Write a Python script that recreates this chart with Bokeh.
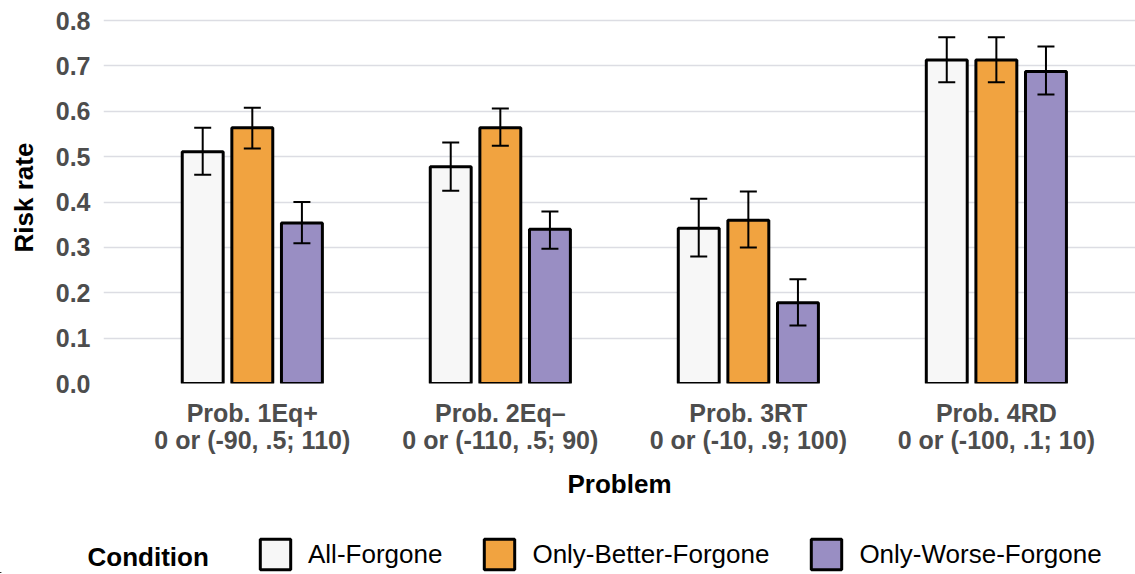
from bokeh.plotting import figure
from bokeh.models import (ColumnDataSource, Range1d, Whisker, TeeHead, Legend, LegendItem,
                          SingleIntervalTicker, FixedTicker, PrintfTickFormatter, Label)
from bokeh.transform import dodge
from bokeh.embed import file_html
from bokeh.resources import INLINE

problems = ["Prob. 1Eq+\n0 or (-90, .5; 110)",
            "Prob. 2Eq\u2013\n0 or (-110, .5; 90)",
            "Prob. 3RT\n0 or (-10, .9; 100)",
            "Prob. 4RD\n0 or (-100, .1; 10)"]
conditions = ["All-Forgone", "Only-Better-Forgone", "Only-Worse-Forgone"]
colors = ["#f7f7f7", "#f1a340", "#998ec3"]

all_mean = [0.511, 0.478, 0.342, 0.713]
all_lo = [0.460, 0.425, 0.280, 0.664]
all_hi = [0.564, 0.531, 0.407, 0.763]

better_mean = [0.564, 0.564, 0.360, 0.713]
better_lo = [0.518, 0.524, 0.300, 0.664]
better_hi = [0.608, 0.606, 0.423, 0.763]

worse_mean = [0.354, 0.340, 0.178, 0.688]
worse_lo = [0.309, 0.297, 0.128, 0.637]
worse_hi = [0.400, 0.379, 0.230, 0.743]

means = [all_mean, better_mean, worse_mean]
los = [all_lo, better_lo, worse_lo]
his = [all_hi, better_hi, worse_hi]
offsets = [-0.2, 0.0, 0.2]

FONT = "Liberation Sans"
xpos = [i + 1 for i in range(len(problems))]

p = figure(width=1135, height=527, x_range=Range1d(0.4, 4.561),
           y_range=(0, 0.82), output_backend="svg", toolbar_location=None,
           min_border_left=103, min_border_right=0, min_border_top=11, min_border_bottom=144)

for i in range(3):
    src = ColumnDataSource(dict(x=xpos, top=means[i], lo=los[i], hi=his[i]))
    p.vbar(x=dodge("x", offsets[i]), top="top", bottom=0, width=0.165,
           source=src, fill_color=colors[i], line_color="black", line_width=3)
    w = Whisker(base=dodge("x", offsets[i]), lower="lo", upper="hi", source=src,
                line_color="black", line_width=2, level="annotation",
                lower_head=TeeHead(size=17, line_width=2, line_color="black"),
                upper_head=TeeHead(size=17, line_width=2, line_color="black"))
    p.add_layout(w)

p.yaxis.ticker = SingleIntervalTicker(interval=0.1)
p.yaxis.formatter = PrintfTickFormatter(format="%.1f")
p.xaxis.ticker = FixedTicker(ticks=xpos)
p.xaxis.major_label_overrides = {x: lab for x, lab in zip(xpos, problems)}

for ax in (p.xaxis[0], p.yaxis[0]):
    ax.axis_line_color = None
    ax.major_tick_line_color = None
    ax.minor_tick_line_color = None
    ax.major_tick_out = 0
    ax.major_tick_in = 0
    ax.minor_tick_out = 0
    ax.minor_tick_in = 0
    ax.major_label_text_font = FONT
    ax.major_label_text_font_style = "bold"
    ax.major_label_text_font_size = "25px"
    ax.major_label_text_color = "#4d4d4d"
    ax.major_label_text_line_height = 0.98
    ax.axis_label_text_font = FONT
    ax.axis_label_text_font_style = "bold"
    ax.axis_label_text_font_size = "26px"
    ax.axis_label_text_color = "black"

p.xaxis.axis_label = "Problem"
p.yaxis.axis_label = "Risk rate"
p.yaxis.major_label_standoff = 13
p.xaxis.major_label_standoff = 15
p.xaxis.axis_label_standoff = 12
p.yaxis.axis_label_standoff = 14

p.xgrid.grid_line_color = None
p.ygrid.grid_line_color = "#dcdde3"
p.ygrid.grid_line_width = 1.5
p.outline_line_color = None
p.background_fill_color = "white"

# legend strip
lg = figure(width=1135, height=46, x_range=(0, 1), y_range=(0, 1),
            output_backend="svg", toolbar_location=None,
            x_axis_location=None, y_axis_location=None,
            min_border_left=0, min_border_right=0, min_border_top=0, min_border_bottom=0)
lg.grid.grid_line_color = None
lg.outline_line_color = None
items = []
for i in range(3):
    r = lg.vbar(x=[-10], top=[-10], bottom=-11, width=0.1,
                fill_color=colors[i], line_color="black", line_width=3)
    items.append(LegendItem(label=conditions[i], renderers=[r]))

legend = Legend(items=items, orientation="horizontal",
                label_text_font=FONT, label_text_font_size="26px", label_text_color="black",
                glyph_width=38, glyph_height=38, label_standoff=14, spacing=38,
                border_line_color=None, background_fill_alpha=0,
                padding=0, margin=0, location=(256, 0))
lg.add_layout(legend)
cond = Label(x=87, y=17, x_units="screen", y_units="screen", text="Condition",
             text_font=FONT, text_font_style="bold", text_font_size="26px",
             text_color="black", text_baseline="middle", text_align="left")
lg.add_layout(cond)

open("out.html", "w").write(file_html([p, lg], INLINE))
